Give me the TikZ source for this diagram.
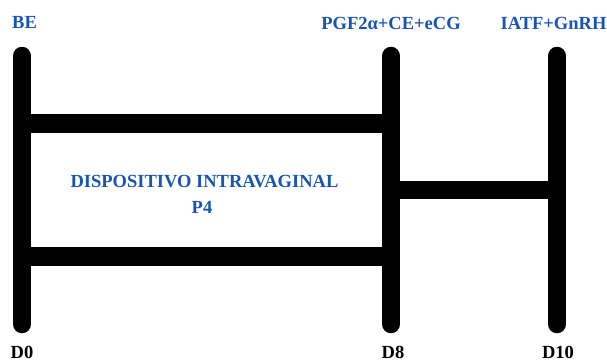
\documentclass[tikz,border=0pt]{standalone}
\usepackage{fontspec}
\setmainfont{Liberation Serif}
\definecolor{lblue}{RGB}{24,84,180}
\tikzset{
  bar/.style={line width=18.5pt, black},
  vbar/.style={bar, line cap=round},
  lab/.style={font=\bfseries\fontsize{18.5}{20}\selectfont, inner sep=0pt, text=lblue},
  daylab/.style={font=\bfseries\fontsize{18.5}{20}\selectfont, inner sep=0pt, text=black},
}
\begin{document}
\begin{tikzpicture}[x=1pt,y=-1pt]
\useasboundingbox (0,0) rectangle (607,362);
% coordinates
\coordinate (l1) at (22,56);
\coordinate (l2) at (22,324);
\coordinate (m1) at (391,56);
\coordinate (m2) at (391,324);
\coordinate (r1) at (557,56);
\coordinate (r2) at (557,324);
\coordinate (ht1) at (22,123.5);
\coordinate (ht2) at (391,123.5);
\coordinate (hb1) at (22,256.5);
\coordinate (hb2) at (391,256.5);
\coordinate (hm1) at (391,190);
\coordinate (hm2) at (557,190);
% horizontal bars
\draw[bar] (ht1) -- (ht2);
\draw[bar] (hb1) -- (hb2);
\draw[bar] (hm1) -- (hm2);
% vertical bars
\draw[vbar] (l1) -- (l2);
\draw[vbar] (m1) -- (m2);
\draw[vbar] (r1) -- (r2);
% labels
\node[lab] (be) at (24.5,22.5) {BE};
\node[lab] (pgf) at (391,23) {PGF2α+CE+eCG};
\node[lab] (iatf) at (553.5,23) {IATF+GnRH};
\node[lab] (disp) at (204.5,182) {DISPOSITIVO INTRAVAGINAL};
\node[lab] (p4) at (202,207) {P4};
\node[daylab] (d0) at (22,352) {D0};
\node[daylab] (d8) at (393,352) {D8};
\node[daylab] (d10) at (558,352) {D10};
\end{tikzpicture}
\end{document}
